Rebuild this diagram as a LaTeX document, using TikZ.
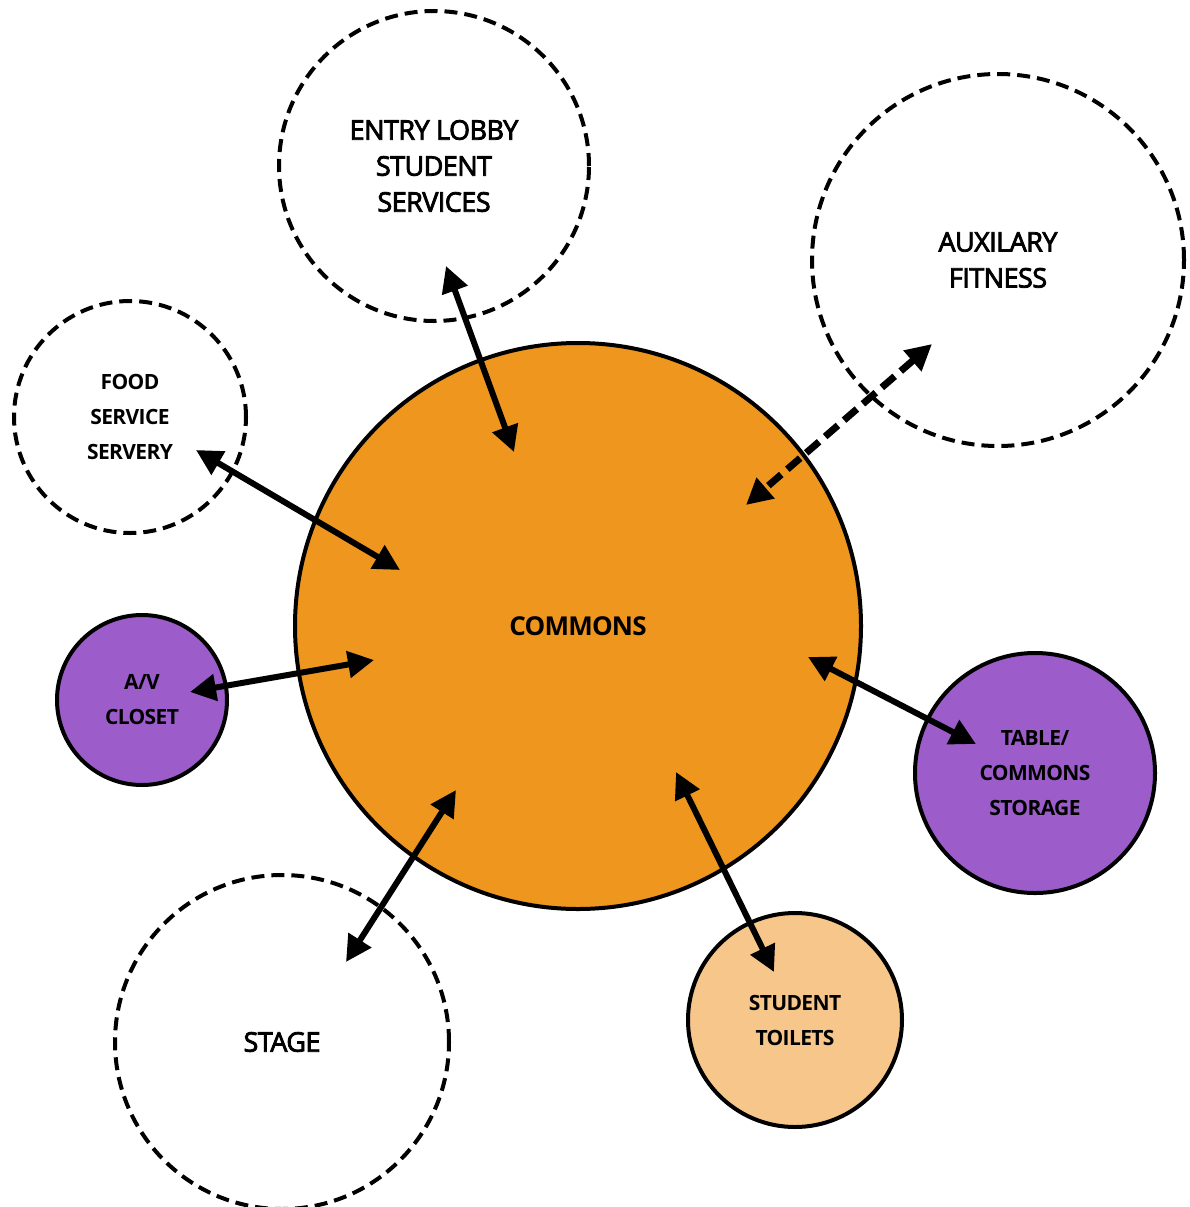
\documentclass[tikz,border=0pt]{standalone}
\usepackage{fontspec}
\setmainfont{Open Sans}
\newfontfamily\roomfont[FakeBold=3,LetterSpace=-2]{Open Sans}
\newfontfamily\tightbold[LetterSpace=-3]{Open Sans Bold}
\usetikzlibrary{arrows.meta}
\definecolor{commonsorange}{HTML}{EF961F}
\definecolor{closetpurple}{HTML}{9C5DCB}
\definecolor{toiletpeach}{HTML}{F7C68A}
\tikzset{
  space/.style={circle, draw, line width=4pt, inner sep=0pt, align=center, font=\roomfont\fontsize{27}{36}\selectfont},
  future/.style={space, dash pattern=on 13pt off 7pt},
  small/.style={font=\tightbold\fontsize{21}{35}\selectfont},
  link/.style={{Triangle[length=26pt,width=26pt]}-{Triangle[length=26pt,width=26pt]}, line width=6pt}
}
\begin{document}
\begin{tikzpicture}[x=1pt,y=-1pt]
      \useasboundingbox (0,0) rectangle (1190,1207);
      \node[space, fill=commonsorange, minimum size=566pt, font=\tightbold\fontsize{26}{36}\selectfont] (commons) at (578,626) {COMMONS};
      \node[future, minimum size=310pt] (lobby) at (434,166) {ENTRY LOBBY\\STUDENT\\SERVICES};
      \node[future, minimum size=372pt] (fitness) at (998,260) {AUXILARY\\FITNESS};
      \node[future, small, minimum size=232pt] (food) at (130,417) {FOOD\\SERVICE\\SERVERY};
      \node[space, small, fill=closetpurple, minimum size=170pt] (closet) at (142,700) {A/V\\CLOSET};
      \node[space, small, fill=closetpurple, minimum size=240pt] (storage) at (1035,773) {TABLE/\\COMMONS\\STORAGE};
      \node[space, small, fill=toiletpeach, minimum size=214pt] (toilets) at (795,1020) {STUDENT\\TOILETS};
      \node[future, minimum size=334pt] (stage) at (282,1042) {STAGE};
      % arrow ends
      \coordinate (lobbyA) at (446,266);   \coordinate (lobbyB) at (514,452);
      \coordinate (foodA) at (196,450);    \coordinate (foodB) at (400,570);
      \coordinate (closetA) at (190,692);  \coordinate (closetB) at (374,660);
      \coordinate (fitnessA) at (932,344); \coordinate (fitnessB) at (746,505);
      \coordinate (storageA) at (976,744); \coordinate (storageB) at (808,657);
      \coordinate (toiletsA) at (774,972); \coordinate (toiletsB) at (676,772);
      \coordinate (stageA) at (346,962);   \coordinate (stageB) at (456,790);
      \begin{scope}[link]
        \draw (lobbyA) to (lobbyB);
        \draw (foodA) to (foodB);
        \draw (closetA) to (closetB);
        \draw[line width=7pt, dash pattern=on 17pt off 8pt] (fitnessA) to (fitnessB);
        \draw (storageA) to (storageB);
        \draw (toiletsA) to (toiletsB);
        \draw (stageA) to (stageB);
      \end{scope}
    \end{tikzpicture}
\end{document}
